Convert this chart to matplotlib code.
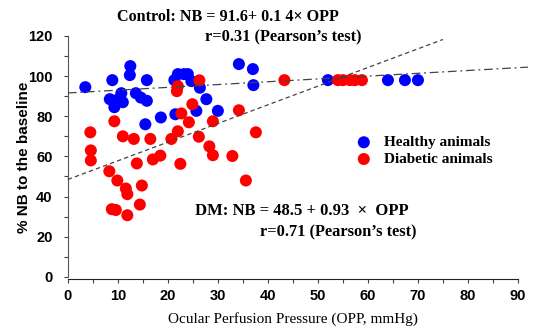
import numpy as np
import matplotlib
matplotlib.use("Agg")
import matplotlib.pyplot as plt
from matplotlib.ticker import MultipleLocator

# healthy animals (OPP, %NB)
healthy_x = [3.5, 8.9, 12.5, 12.4, 15.8, 8.4, 10.7, 10.1, 9.3, 11.0, 13.6, 14.6, 15.8,
             18.6, 15.5, 21.5, 21.3, 22.0, 23.2, 24.0, 24.7, 26.4, 27.7, 25.7, 30.0,
             34.2, 37.0, 37.1, 52.0, 64.0, 67.4, 70.0]
healthy_y = [94.5, 98.0, 105.0, 100.5, 98.0, 88.5, 91.5, 88.5, 84.5, 87.0, 91.5, 89.3, 87.7,
             79.4, 76.0, 81.0, 98.0, 101.0, 101.0, 101.0, 97.5, 94.2, 88.5, 82.7, 82.7,
             106.0, 103.5, 95.5, 98.0, 98.0, 98.0, 98.0]

# diabetic animals
diabetic_x = [4.5, 4.6, 4.6, 9.3, 11.0, 13.2, 16.5, 20.7, 22.0, 22.0, 21.8, 22.7, 24.9,
              24.2, 26.3, 26.2, 29.0, 28.3, 29.0, 32.9, 34.2, 37.6, 35.6, 22.5, 18.5,
              17.0, 13.8, 8.3, 9.9, 11.6, 11.9, 14.8, 8.8, 9.6, 14.4, 11.9, 43.3,
              54.0, 55.0, 56.4, 57.4, 58.8]
diabetic_y = [72.0, 63.0, 58.0, 77.5, 70.0, 68.7, 68.7, 68.7, 72.5, 95.0, 92.5, 81.4, 86.0,
              77.0, 97.9, 69.8, 77.5, 65.0, 60.6, 60.2, 83.0, 72.0, 48.0, 56.3, 60.4,
              58.5, 56.5, 52.6, 48.0, 44.0, 41.2, 45.5, 33.7, 33.3, 36.0, 30.7, 98.0,
              98.0, 98.0, 98.0, 98.0, 98.0]

# regression lines
ctrl_a, ctrl_b = 91.6, 0.14
dm_a, dm_b = 48.5, 0.93

fig = plt.figure(figsize=(5.34, 3.30), dpi=100)
ax = fig.add_axes([0.127, 0.155, 0.843, 0.736])

ax.scatter(healthy_x, healthy_y, s=75, color='#0000ff', edgecolors='none',
           zorder=3, label='Healthy animals')
ax.scatter(diabetic_x, diabetic_y, s=75, color='#ff0000', edgecolors='none',
           zorder=4, label='Diabetic animals')

xc = np.array([0, 92])
ax.plot(xc, ctrl_a + ctrl_b * xc, color='#444444', lw=0.9, ls=(0, (7, 3, 1.5, 3)),
        zorder=5, clip_on=False)
xd = np.array([0, 75])
ax.plot(xd, dm_a + dm_b * xd, color='#444444', lw=0.9, ls=(0, (3.5, 2.5)),
        zorder=5, clip_on=False)

ax.set_xlim(0, 90)
ax.set_ylim(-1, 120)
for s in ['top', 'right']:
    ax.spines[s].set_visible(False)
ax.spines['left'].set_bounds(0, 120)
ax.spines['left'].set_color('#555555')
ax.spines['bottom'].set_color('#222222')

ax.xaxis.set_major_locator(MultipleLocator(10))
ax.xaxis.set_minor_locator(MultipleLocator(5))
ax.yaxis.set_major_locator(MultipleLocator(20))
ax.yaxis.set_minor_locator(MultipleLocator(10))
ax.tick_params(which='both', direction='out', length=3, width=0.8, colors='#444444')
ax.tick_params(axis='both', labelcolor='black', labelsize=10.5)
ax.tick_params(axis='y', pad=8)
ax.tick_params(axis='x', pad=4)
for lab in ax.get_xticklabels() + ax.get_yticklabels():
    lab.set_fontfamily('Liberation Sans')
    lab.set_fontweight('bold')

ax.set_ylabel('% NB to the baseline', fontfamily='Liberation Sans', fontweight='bold',
              fontsize=11, labelpad=-2)
ax.set_xlabel('Ocular Perfusion Pressure (OPP, mmHg)', fontfamily='Liberation Serif',
              fontsize=11, labelpad=7)

serif = dict(fontfamily='Liberation Serif', fontweight='bold', color='black',
             clip_on=False, va='center')
ax.text(9.9, 129.5, 'Control: NB = 91.6+ 0.1 4\u00d7 OPP', fontsize=11.6, **serif)
ax.text(27.4, 119.5, 'r=0.31 (Pearson\u2019s test)', fontsize=11.8, **serif)
ax.text(25.4, 32.9, 'DM: NB = 48.5 + 0.93  \u00d7  OPP', fontsize=12, **serif)
ax.text(38.4, 21.9, 'r=0.71 (Pearson\u2019s test)', fontsize=11.8, **serif)

leg = ax.legend(loc='upper left', bbox_to_anchor=(0.61, 0.615), frameon=False,
                handletextpad=0.3, borderaxespad=0, labelspacing=0.2,
                prop={'family': 'Liberation Serif', 'weight': 'bold', 'size': 11})

fig.savefig('out.png', dpi=100)
